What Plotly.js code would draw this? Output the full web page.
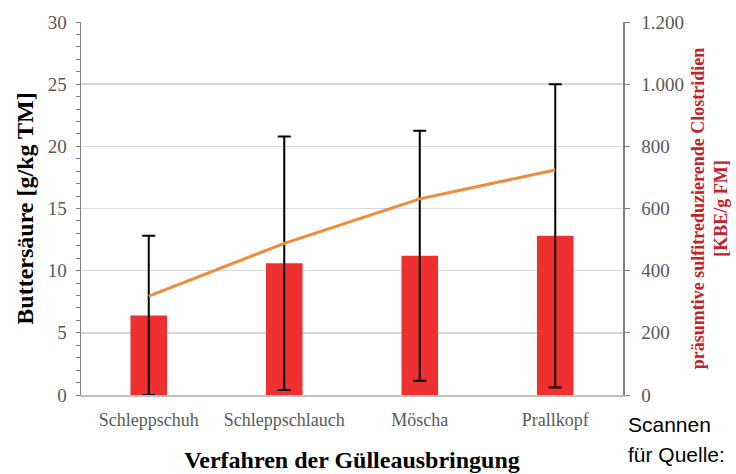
<!DOCTYPE html>
<html><head><meta charset="utf-8">
<script src="https://cdn.plot.ly/plotly-3.0.1.min.js"></script>
<style>body{margin:0;background:#fff}#c{width:736px;height:474px}</style>
</head><body><div id="c"></div>
<script>
const categories = ['Schleppschuh', 'Schleppschlauch', 'Möscha', 'Prallkopf'];
const buttersaeure = [6.4, 10.6, 11.2, 12.8];
const buttersaeureErr = [6.4, 10.2, 10.05, 12.2];
const clostridien = [318, 488, 631, 724];

const serif = 'Liberation Serif, Times New Roman, serif';
const sans = 'Liberation Sans, Arial, sans-serif';
const data = [
  {type:'bar', x:categories, y:buttersaeure, yaxis:'y', width:0.27,
   marker:{color:'#EE3030'},
   error_y:{type:'data', array:buttersaeureErr, visible:true, color:'#000', thickness:2, width:6.5},
   hoverinfo:'y'},
  {type:'scatter', mode:'lines', x:categories, y:clostridien, yaxis:'y2',
   line:{color:'#F08A3C', width:3}}
];
const layout = {
  width:736, height:474,
  margin:{l:81, r:113, t:22, b:79},
  showlegend:false,
  separators:',.',
  paper_bgcolor:'#fff', plot_bgcolor:'#fff',
  font:{family:serif, color:'#595959', size:18},
  xaxis:{type:'category', showline:true, linecolor:'#BFBFBF', linewidth:1.5,
    ticks:'', tickfont:{size:18, color:'#595959'}, ticklabelstandoff:8,
    title:{text:'<b>Verfahren der Gülleausbringung</b>', font:{size:24, color:'#000'}, standoff:22}},
  yaxis:{range:[0,30], dtick:5, showgrid:true, gridcolor:'#D9D9D9', gridwidth:1.5,
    showline:true, linecolor:'#808080', linewidth:1.5, ticks:'outside', ticklen:4, tickcolor:'#808080',
    minor:{dtick:1, ticks:'outside', ticklen:4, tickcolor:'#808080', showgrid:false},
    tickfont:{size:19, color:'#595959'}, zeroline:false, ticklabelstandoff:5,
    title:{text:'<b>Buttersäure [g/kg TM]</b>', font:{size:24, color:'#000'}, standoff:7}},
  yaxis2:{overlaying:'y', side:'right', range:[0,1200], dtick:200, showgrid:false,
    separatethousands:true, showline:true, linecolor:'#808080', linewidth:1.5,
    ticks:'outside', ticklen:5, tickcolor:'#808080', zeroline:false,
    tickfont:{size:19, color:'#595959'}, ticklabelstandoff:8,
    title:{text:'<b>präsumtive sulfitreduzierende Clostridien<br>[KBE/g FM]</b>', font:{size:18, color:'#C3222B'}, standoff:8}},
  annotations:[
    {text:'Scannen', xref:'paper', yref:'paper', x:1.0055, y:-0.043, xanchor:'left', yanchor:'top',
     align:'left', showarrow:false, font:{family:sans, size:21, color:'#000'}},
    {text:'für Quelle:', xref:'paper', yref:'paper', x:1.0055, y:-0.123, xanchor:'left', yanchor:'top',
     align:'left', showarrow:false, font:{family:sans, size:21, color:'#000'}}
  ]
};
Plotly.newPlot('c', data, layout, {displayModeBar:false, staticPlot:true});
</script></body></html>
